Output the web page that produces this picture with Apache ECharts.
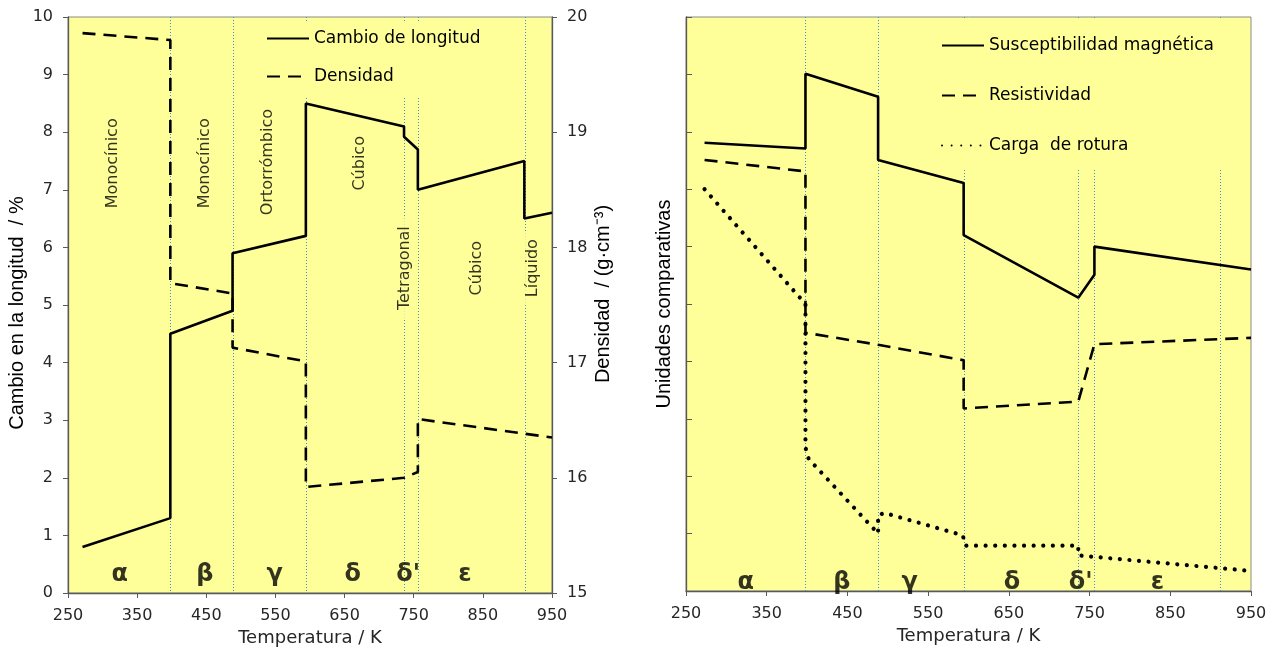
<!DOCTYPE html>
<html><head><meta charset="utf-8">
<script src="https://cdn.jsdelivr.net/npm/echarts@6/dist/echarts.min.js"></script>
<style>html,body{margin:0;padding:0;background:#fff}#c{width:1275px;height:647px}</style>
</head><body><div id="c"></div>
<script>
// ---- data ----
const transitionsK = [398, 488, 594, 736, 756, 911];

// left chart
const lengthT  = [271, 398, 398, 488, 488, 594, 594, 736, 736, 756, 756, 910, 910, 950];
const lengthV  = [0.8, 1.3, 4.5, 4.9, 5.9, 6.2, 8.5, 8.1, 7.92, 7.7, 7.0, 7.5, 6.5, 6.6];
const densityT = [271, 398, 398, 488, 488, 594, 594, 736, 756, 756, 950];
const densityV = [19.86, 19.80, 17.69, 17.60, 17.13, 17.01, 15.92, 16.00, 16.05, 16.51, 16.35];

// right chart
const suscT  = [273, 398, 398, 488, 488, 594, 594, 736, 756, 756, 950];
const suscV  = [7.81, 7.71, 9.01, 8.61, 7.51, 7.11, 6.20, 5.11, 5.51, 6.0, 5.60];
const resT   = [273, 398, 398, 488, 594, 594, 736, 756, 950];
const resV   = [7.51, 7.31, 4.50, 4.29, 4.02, 3.18, 3.30, 4.30, 4.41];
const cargaT = [273, 398, 398, 402, 488, 488, 496, 593, 596, 736, 736, 950];
const cargaV = [7.0, 5.0, 2.5, 2.3, 1.0, 1.32, 1.36, 0.97, 0.79, 0.79, 0.62, 0.35];

// labels
const phaseNames   = ['α', 'β', 'γ', 'δ', "δ'", 'ε'];
const phaseLeftT   = [325, 448, 549, 662, 742, 824];
const phaseRightT  = [324, 443, 527, 654, 739, 834];
const structNames  = ['Monocínico', 'Monocínico', 'Ortorrómbico', 'Cúbico', 'Tetragonal', 'Cúbico', 'Líquido'];
const structT      = [315, 448, 539, 672, 737, 842, 923];
const structV      = [7.46, 7.46, 7.48, 7.46, 5.64, 5.64, 5.64];
const phaseLeftV   = 0.32;
const phaseRightV  = 0.14;

const xMin = 250, xMax = 950, xStep = 100;

// ---- styles ----
const YEL = '#FFFF99';
const TXT = '#262626';
const AX = '#595959';
const VER = 'DejaVu Sans';
const ARI = 'Liberation Sans';
const pairs = (a, b) => a.map((v, i) => [v, b[i]]);

const dashed = {color: '#000', width: 2.6, type: [13, 8]};
const solid = {color: '#000', width: 2.6, type: 'solid'};
const dotted = {color: '#000', width: 4.2, type: [0.01, 9.6], cap: 'round'};

// vertical dotted transition lines, x from the axis scale (snapped to a pixel centre for crispness)
function transitionSeries(xi, yi) {
  return {
    type: 'custom', xAxisIndex: xi, yAxisIndex: yi, z: 1, silent: true,
    data: transitionsK.map(t => [t]),
    encode: {x: 0},
    renderItem: (params, api) => {
      const cs = params.coordSys;
      const x = Math.round(api.coord([api.value(0), 0])[0]) + 0.5;
      return {
        type: 'line', silent: true,
        shape: {x1: x, y1: cs.y, x2: x, y2: cs.y + cs.height},
        style: {stroke: '#3a8fd8', lineWidth: 1, lineDash: [1, 2]}
      };
    }
  };
}

function xAxisCfg(gi) {
  return {
    type: 'value', gridIndex: gi, min: xMin, max: xMax, interval: xStep,
    name: 'Temperatura / K', nameLocation: 'middle', nameGap: 36,
    nameTextStyle: {fontFamily: VER, fontSize: 18, color: TXT},
    axisLine: {show: true, onZero: false, lineStyle: {color: AX, width: 1.3}},
    axisTick: {show: true, length: 5, lineStyle: {color: AX}},
    axisLabel: {fontFamily: VER, fontSize: 16, color: TXT, margin: 15},
    splitLine: {show: false}
  };
}

const labelSeries = (gi, yi, data, lbl, z) => ({
  type: 'scatter', xAxisIndex: gi, yAxisIndex: yi, symbolSize: 0.1, z: z || 5,
  itemStyle: {color: 'rgba(0,0,0,0)'}, silent: true, emphasis: {disabled: true},
  data: data,
  label: Object.assign({show: true, position: 'inside', formatter: p => p.value[2]}, lbl)
});

const legendCommon = {
  orient: 'vertical', itemWidth: 42, itemHeight: 14, backgroundColor: YEL, selectedMode: false,
  itemStyle: {color: 'rgba(0,0,0,0)', borderWidth: 0},
  textStyle: {fontFamily: VER, fontSize: 17, color: '#000'}
};

const option = {
  animation: false,
  backgroundColor: '#fff',
  grid: [
    {left: 68, right: 723, top: 17, bottom: 54, containLabel: false, outerBoundsMode: 'none',
     show: true, backgroundColor: YEL, borderColor: '#8a8a8a', borderWidth: 1},
    {left: 686, right: 24, top: 17, bottom: 56, containLabel: false, outerBoundsMode: 'none',
     show: true, backgroundColor: YEL, borderColor: '#8a8a8a', borderWidth: 1}
  ],
  xAxis: [xAxisCfg(0), xAxisCfg(1)],
  yAxis: [
    {type: 'value', gridIndex: 0, position: 'left', min: 0, max: 10, interval: 1,
     name: 'Cambio en la longitud  / %', nameLocation: 'middle', nameGap: 41, nameRotate: 90,
     nameTextStyle: {fontFamily: ARI, fontSize: 20, color: '#000', padding: [0, 16, 0, 0]},
     axisLine: {show: true, lineStyle: {color: AX, width: 1.3}},
     axisTick: {show: true, length: 5, lineStyle: {color: AX}},
     axisLabel: {fontFamily: VER, fontSize: 16, color: TXT, margin: 15},
     splitLine: {show: false}},
    {type: 'value', gridIndex: 0, position: 'right', min: 15, max: 20, interval: 1,
     name: 'Densidad  / (g·cm⁻³)', nameLocation: 'middle', nameGap: 41, nameRotate: 90,
     nameTextStyle: {fontFamily: ARI, fontSize: 20, color: '#000', padding: [0, 0, 0, 22]},
     axisLine: {show: true, lineStyle: {color: AX, width: 1.3}},
     axisTick: {show: true, length: 5, lineStyle: {color: AX}},
     axisLabel: {fontFamily: VER, fontSize: 16, color: TXT, margin: 15},
     splitLine: {show: false}},
    {type: 'value', gridIndex: 1, position: 'left', min: 0, max: 10, interval: 1,
     name: 'Unidades comparativas', nameLocation: 'middle', nameGap: 12, nameRotate: 90,
     nameTextStyle: {fontFamily: ARI, fontSize: 20, color: '#000'},
     axisLine: {show: true, lineStyle: {color: AX, width: 1.3}},
     axisTick: {show: true, inside: true, length: 6, lineStyle: {color: AX}},
     axisLabel: {show: false},
     splitLine: {show: false}}
  ],
  legend: [
    Object.assign({}, legendCommon, {data: ['Cambio de longitud', 'Densidad'], left: 256, top: 21,
      itemGap: 21, padding: [9, 12, 12, 10]}),
    Object.assign({}, legendCommon, {data: ['Susceptibilidad magnética', 'Resistividad', 'Carga  de rotura'],
      left: 922, top: 20, itemGap: 33, padding: [17, 22, 14, 19]})
  ],
  series: [
    transitionSeries(0, 0),
    transitionSeries(1, 2),

    {name: 'Cambio de longitud', type: 'line', xAxisIndex: 0, yAxisIndex: 0, symbol: 'none',
     lineStyle: solid, itemStyle: {color: '#000'}, data: pairs(lengthT, lengthV), z: 7},
    {name: 'Densidad', type: 'line', xAxisIndex: 0, yAxisIndex: 1, symbol: 'none',
     lineStyle: dashed, itemStyle: {color: '#000'}, data: pairs(densityT, densityV), z: 7},
    labelSeries(0, 0, structNames.map((n, i) => [structT[i], structV[i], n]),
      {rotate: 90, fontFamily: VER, fontSize: 16, color: '#000', backgroundColor: YEL, padding: [2, 8]}),
    labelSeries(0, 0, phaseNames.map((n, i) => [phaseLeftT[i], phaseLeftV, n]),
      {fontFamily: VER, fontSize: 24, fontWeight: 'bold', color: '#000'}, 6),
    {name: 'Susceptibilidad magnética', type: 'line', xAxisIndex: 1, yAxisIndex: 2, symbol: 'none',
     lineStyle: solid, itemStyle: {color: '#000'}, data: pairs(suscT, suscV), z: 7},
    {name: 'Resistividad', type: 'line', xAxisIndex: 1, yAxisIndex: 2, symbol: 'none',
     lineStyle: dashed, itemStyle: {color: '#000'}, data: pairs(resT, resV), z: 7},
    {name: 'Carga  de rotura', type: 'line', xAxisIndex: 1, yAxisIndex: 2, symbol: 'none',
     lineStyle: dotted, itemStyle: {color: '#000'}, data: pairs(cargaT, cargaV), z: 7},
    labelSeries(1, 2, phaseNames.map((n, i) => [phaseRightT[i], phaseRightV, n]),
      {fontFamily: VER, fontSize: 24, fontWeight: 'bold', color: '#000'}, 6)
  ]
};
const chart = echarts.init(document.getElementById('c'), null, {renderer: 'canvas'});
chart.setOption(option);
</script>
</body></html>
